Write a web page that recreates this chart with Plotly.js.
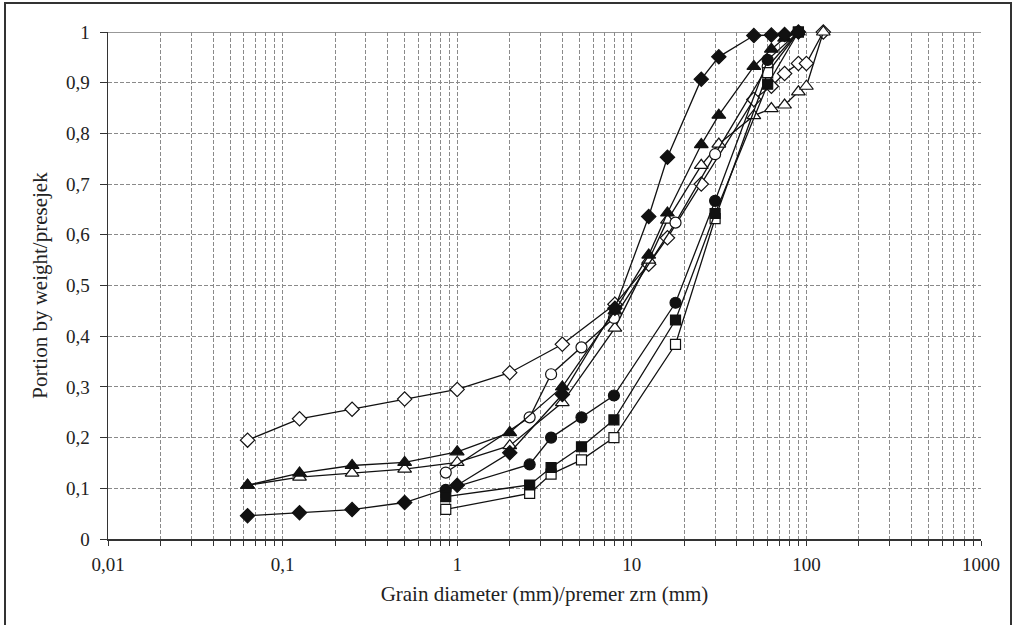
<!DOCTYPE html>
<html>
<head>
<meta charset="utf-8">
<script src="https://cdn.plot.ly/plotly-3.0.1.min.js"></script>
<style>
html,body{margin:0;padding:0;background:#fff;}
#wrap{position:relative;width:1016px;height:625px;overflow:hidden;}
#chart{width:1016px;height:625px;}
#frame{position:absolute;left:4px;top:2px;width:1004px;height:640px;border:2px solid #333;pointer-events:none;}
</style>
</head>
<body>
<div id="wrap"><div id="chart"></div><div id="frame"></div></div>
<script>
// Sieve sizes (mm) and passing fractions
const xA = [0.063, 0.125, 0.25, 0.5, 1, 2, 4, 8, 12.5, 16, 25, 31.5, 50, 63, 75, 90];
const yFilledDiamond = [0.046, 0.052, 0.058, 0.072, 0.106, 0.170, 0.285, 0.455, 0.636, 0.753, 0.907, 0.951, 0.993, 0.994, 0.995, 1.0];

const xOpenDiamond = [0.063, 0.125, 0.25, 0.5, 1, 2, 4, 8, 12.5, 16, 25, 50, 63, 75, 90, 100, 125];
const yOpenDiamond = [0.195, 0.237, 0.256, 0.276, 0.295, 0.328, 0.384, 0.463, 0.542, 0.594, 0.700, 0.867, 0.893, 0.918, 0.938, 0.938, 1.0];

const yFilledTriangle = [0.106, 0.130, 0.145, 0.151, 0.172, 0.210, 0.300, 0.450, 0.560, 0.643, 0.778, 0.836, 0.932, 0.966, 0.988, 1.0];

const xOpenTriangle = [0.063, 0.125, 0.25, 0.5, 1, 2, 4, 8, 12.5, 16, 25, 31.5, 50, 63, 75, 90, 100, 125];
const yOpenTriangle = [0.106, 0.122, 0.130, 0.138, 0.151, 0.184, 0.269, 0.416, 0.550, 0.629, 0.737, 0.779, 0.835, 0.849, 0.856, 0.882, 0.893, 1.0];

const xB = [0.86, 2.6, 3.45, 5.15, 7.9, 17.8, 30, 60, 90];
const yOpenCircle = [0.131, 0.240, 0.325, 0.378, 0.436, 0.624, 0.759, 0.932, 1.0];
const yFilledCircle = [0.097, 0.147, 0.200, 0.240, 0.283, 0.466, 0.667, 0.945, 1.0];
const yFilledSquare = [0.0835, 0.1065, 0.141, 0.182, 0.235, 0.432, 0.642, 0.897, 1.0];
const yOpenSquare = [0.0586, 0.090, 0.128, 0.156, 0.200, 0.384, 0.632, 0.920, 1.0];

const xTickVals = [0.01, 0.1, 1, 10, 100, 1000];
const xTickText = ['0,01', '0,1', '1', '10', '100', '1000'];
const yTickVals = [0, 0.1, 0.2, 0.3, 0.4, 0.5, 0.6, 0.7, 0.8, 0.9, 1];
const yTickText = ['0', '0,1', '0,2', '0,3', '0,4', '0,5', '0,6', '0,7', '0,8', '0,9', '1'];

// all 1..9 x decade positions for grid/ticks
const gridVals = [];
const gridText = [];
for (let e = -2; e <= 3; e++) {
  for (let m = 1; m <= 9; m++) {
    const v = m * Math.pow(10, e);
    if (v > 1000.0001) break;
    gridVals.push(v);
    const i = xTickVals.findIndex(t => Math.abs(t - v) / v < 1e-9);
    gridText.push(i >= 0 ? xTickText[i] : '');
  }
}

function tr(x, y, symbol, fill, size) {
  return {
    x: x, y: y, type: 'scatter', mode: 'lines+markers', cliponaxis: false,
    line: {color: '#111', width: 1.3},
    marker: {symbol: symbol, size: size, color: fill, line: {color: '#111', width: 1.2}},
    showlegend: false, hoverinfo: 'x+y'
  };
}

const data = [
  tr(xOpenDiamond, yOpenDiamond, 'diamond', '#fff', 11),
  tr(xOpenTriangle, yOpenTriangle, 'triangle-up', '#fff', 12),
  tr(xB, yOpenCircle, 'circle', '#fff', 11),
  tr(xB, yOpenSquare, 'square', '#fff', 10),
  tr(xA, yFilledTriangle, 'triangle-up', '#111', 12),
  tr(xB, yFilledCircle, 'circle', '#111', 11),
  tr(xA, yFilledDiamond, 'diamond', '#111', 11),
  tr(xB, yFilledSquare, 'square', '#111', 10)
];

const fontFam = 'Liberation Serif';
const tickFnt = {family: fontFam, size: 19, color: '#222'};
const titleFnt = {family: fontFam, size: 21, color: '#222'};
const layout = {
  width: 1016, height: 625,
  margin: {l: 108, r: 35, t: 32, b: 86},
  paper_bgcolor: '#fff', plot_bgcolor: '#fff',
  font: tickFnt,
  xaxis: {
    type: 'log', range: [-2, 3],
    tickmode: 'array', tickvals: gridVals, ticktext: gridText,
    ticks: 'outside', ticklen: 5, tickcolor: '#333', tickwidth: 1,
    ticklabelstandoff: 3,
    showgrid: true, gridcolor: '#8a8a8a', griddash: '4px,2px', gridwidth: 1,
    showline: true, linecolor: '#333', linewidth: 1.5,
    zeroline: false,
    tickfont: tickFnt,
    title: {text: 'Grain diameter (mm)/premer zrn (mm)', font: titleFnt, standoff: 12}
  },
  yaxis: {
    range: [0, 1],
    tickmode: 'array', tickvals: yTickVals, ticktext: yTickText,
    ticks: 'outside', ticklen: 7, tickcolor: '#333', tickwidth: 1,
    ticklabelstandoff: 6,
    showgrid: true, gridcolor: '#8a8a8a', griddash: '4px,2px', gridwidth: 1,
    showline: true, linecolor: '#333', linewidth: 1.5,
    zeroline: false,
    tickfont: tickFnt,
    title: {text: 'Portion by weight/presejek', font: titleFnt, standoff: 12}
  },
  shapes: [
    {type: 'line', xref: 'x', yref: 'y', x0: 0.01, x1: 1000, y0: 1, y1: 1, line: {color: '#333', width: 1.2}, layer: 'below'}
  ]
};

Plotly.newPlot('chart', data, layout, {displayModeBar: false, staticPlot: true});
</script>
</body>
</html>
